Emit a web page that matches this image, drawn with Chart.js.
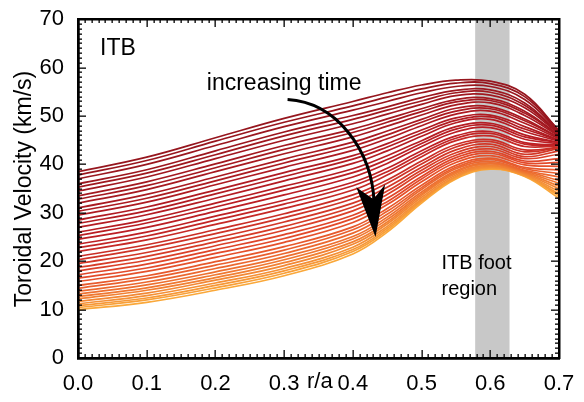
<!DOCTYPE html>
<html>
<head>
<meta charset="utf-8">
<script src="https://cdn.jsdelivr.net/npm/chart.js@4/dist/chart.umd.min.js"></script>
</head>
<body style="margin:0">
<canvas id="graficoPerfis" width="584" height="402"></canvas>
<script>
// Dados (r/a e velocidade toroidal em km/s)
const rOverA = [0, 0.1, 0.2, 0.3, 0.4, 0.45, 0.5, 0.55, 0.6, 0.65, 0.7];
const xTicks = [0, 0.1, 0.2, 0.3, 0.4, 0.5, 0.6, 0.7];
const yTicks = [0, 10, 20, 30, 40, 50, 60, 70];
const footRegion = [0.578, 0.628];

// um perfil por instante, do primeiro (topo) ao último (base)
const profiles = [
    [38.5, 41.5, 45.5, 49.5, 53.0, 54.8, 56.4, 57.4, 57.2, 54.5, 47.0],
    [37.8, 40.8, 44.8, 48.7, 52.1, 53.9, 55.6, 56.8, 56.7, 54.0, 47.0],
    [37.0, 40.0, 43.9, 47.8, 51.2, 53.0, 54.8, 56.1, 56.1, 53.4, 46.8],
    [36.0, 38.9, 42.8, 46.7, 50.1, 51.9, 53.8, 55.3, 55.4, 52.7, 46.5],
    [35.3, 38.2, 42.0, 45.9, 49.3, 51.2, 53.1, 54.8, 54.9, 52.2, 46.5],
    [34.5, 37.4, 41.2, 45.0, 48.4, 50.4, 52.4, 54.2, 54.3, 51.7, 46.3],
    [33.5, 36.4, 40.1, 43.9, 47.3, 49.4, 51.5, 53.4, 53.6, 51.0, 46.0],
    [32.8, 35.6, 39.3, 43.1, 46.6, 48.7, 50.9, 52.9, 53.2, 50.6, 46.0],
    [32.0, 34.8, 38.5, 42.2, 45.7, 47.9, 50.2, 52.3, 52.7, 50.1, 45.8],
    [31.0, 33.8, 37.4, 41.1, 44.6, 46.9, 49.3, 51.6, 51.9, 49.4, 45.5],
    [30.3, 33.0, 36.6, 40.3, 43.8, 46.1, 48.7, 51.0, 51.5, 49.0, 45.5],
    [29.5, 32.2, 35.8, 39.4, 42.9, 45.3, 48.0, 50.4, 51.0, 48.5, 45.3],
    [28.5, 31.2, 34.7, 38.3, 41.8, 44.3, 47.1, 49.6, 50.2, 47.8, 45.0],
    [27.8, 30.4, 33.9, 37.5, 41.1, 43.6, 46.5, 49.1, 49.8, 47.3, 45.0],
    [27.0, 29.6, 33.0, 36.6, 40.2, 42.8, 45.8, 48.6, 49.3, 46.8, 44.8],
    [26.0, 28.6, 32.0, 35.5, 39.1, 41.8, 44.9, 47.8, 48.5, 46.1, 44.5],
    [25.3, 27.9, 31.2, 34.7, 38.3, 41.0, 44.3, 47.3, 48.1, 45.7, 44.5],
    [24.5, 27.0, 30.3, 33.7, 37.4, 40.2, 43.7, 46.7, 47.6, 45.2, 44.3],
    [23.5, 26.0, 29.3, 32.6, 36.3, 39.2, 42.8, 45.9, 46.8, 44.5, 44.0],
    [22.8, 25.2, 28.5, 31.8, 35.6, 38.5, 42.2, 45.4, 46.4, 44.2, 44.0],
    [22.0, 24.4, 27.6, 30.9, 34.7, 37.8, 41.6, 44.9, 45.9, 43.7, 43.8],
    [21.0, 23.4, 26.5, 29.8, 33.7, 36.8, 40.7, 44.1, 45.1, 43.0, 43.5],
    [20.3, 22.7, 25.7, 29.0, 32.9, 36.1, 40.1, 43.6, 44.7, 42.6, 43.5],
    [19.5, 21.8, 24.8, 28.1, 32.0, 35.3, 39.4, 43.0, 44.2, 42.1, 43.3],
    [18.7, 21.0, 24.0, 27.2, 31.2, 34.5, 38.8, 42.4, 43.7, 41.6, 42.8],
    [18.0, 20.2, 23.2, 26.4, 30.4, 33.8, 38.2, 41.9, 43.2, 41.2, 42.1],
    [17.2, 19.4, 22.4, 25.5, 29.5, 33.0, 37.5, 41.4, 42.7, 40.7, 41.2],
    [16.5, 18.6, 21.6, 24.7, 28.8, 32.3, 37.0, 40.9, 42.3, 40.3, 40.4],
    [15.8, 17.9, 20.8, 23.9, 28.0, 31.7, 36.4, 40.4, 41.8, 39.9, 39.6],
    [15.0, 17.0, 19.9, 23.0, 27.1, 30.9, 35.7, 39.8, 41.3, 39.4, 38.8],
    [14.4, 16.4, 19.2, 22.3, 26.5, 30.3, 35.2, 39.4, 41.0, 39.1, 38.1],
    [13.8, 15.7, 18.5, 21.6, 25.8, 29.7, 34.8, 39.1, 40.6, 38.8, 37.4],
    [13.2, 15.1, 17.8, 20.9, 25.1, 29.1, 34.3, 38.7, 40.3, 38.6, 36.7],
    [12.7, 14.5, 17.2, 20.3, 24.6, 28.6, 33.9, 38.4, 40.1, 38.4, 36.1],
    [12.2, 14.0, 16.6, 19.7, 24.0, 28.1, 33.6, 38.1, 39.8, 38.2, 35.5],
    [11.7, 13.4, 16.1, 19.1, 23.5, 27.7, 33.2, 37.8, 39.6, 38.0, 35.0],
    [11.2, 12.9, 15.5, 18.5, 22.9, 27.2, 32.8, 37.5, 39.4, 37.8, 34.4],
    [10.8, 12.4, 15.0, 18.0, 22.4, 26.8, 32.5, 37.4, 39.3, 37.7, 33.9],
    [10.4, 12.0, 14.5, 17.5, 22.0, 26.4, 32.3, 37.2, 39.1, 37.6, 33.5],
    [10.0, 11.5, 14.0, 17.0, 21.5, 26.0, 32.0, 37.0, 39.0, 37.5, 33.0]
];

const FONTE = '"Liberation Sans", Arial, sans-serif';

// vermelho escuro -> vermelho -> laranja
function corDaLinha(t) {
    const stops = [
        [0.0, [150, 22, 30]],
        [0.45, [188, 30, 36]],
        [0.7, [228, 75, 42]],
        [1.0, [250, 168, 58]]
    ];
    for (let k = 1; k < stops.length; k++) {
        if (t <= stops[k][0]) {
            const a = stops[k - 1], b = stops[k];
            const f = (t - a[0]) / (b[0] - a[0]);
            const c = a[1].map((v, j) => Math.round(v + (b[1][j] - v) * f));
            return `rgb(${c[0]},${c[1]},${c[2]})`;
        }
    }
    return 'rgb(250,168,58)';
}

const datasets = profiles.map((perfil, i) => ({
    data: perfil.map((v, j) => ({ x: rOverA[j], y: v })),
    borderColor: corDaLinha(i / (profiles.length - 1)),
    borderWidth: 1.7,
    pointRadius: 0,
    fill: false,
    tension: 0.4
}));

// faixa cinza da região do pé da ITB (atrás das curvas)
const faixaPlugin = {
    id: 'faixa',
    beforeDatasetsDraw(chart) {
        const { ctx, chartArea, scales: { x } } = chart;
        const x0 = x.getPixelForValue(footRegion[0]);
        const x1 = x.getPixelForValue(footRegion[1]);
        ctx.save();
        ctx.fillStyle = 'rgb(200,200,200)';
        ctx.fillRect(x0, chartArea.top, x1 - x0, chartArea.bottom - chartArea.top);
        ctx.restore();
    }
};

// títulos e anotações
const textosPlugin = {
    id: 'textos',
    afterDraw(chart) {
        const { ctx, scales: { x, y } } = chart;
        ctx.save();
        ctx.fillStyle = '#000';
        ctx.font = `22px ${FONTE}`;
        ctx.textAlign = 'center';
        ctx.textBaseline = 'middle';
        ctx.fillText('r/a', x.getPixelForValue(0.352), 382);
        ctx.save();
        ctx.translate(25, 189);
        ctx.rotate(-Math.PI / 2);
        ctx.font = `23px ${FONTE}`;
        ctx.fillText('Toroidal Velocity (km/s)', 0, 0);
        ctx.restore();

        ctx.font = `23px ${FONTE}`;
        ctx.textAlign = 'left';
        ctx.fillText('ITB', x.getPixelForValue(0.032), y.getPixelForValue(64));
        ctx.textAlign = 'center';
        ctx.fillText('increasing time', x.getPixelForValue(0.3), y.getPixelForValue(56.6));
        ctx.font = `20px ${FONTE}`;
        ctx.textAlign = 'left';
        ctx.fillText('ITB foot', x.getPixelForValue(0.529), y.getPixelForValue(19.6));
        ctx.fillText('region', x.getPixelForValue(0.529), y.getPixelForValue(14.1));

        // seta curva
        const P = (vx, vy) => [x.getPixelForValue(vx), y.getPixelForValue(vy)];
        const s = P(0.305, 53.4), c1 = P(0.376, 52.8), c2 = P(0.428, 43), e = P(0.431, 32);
        ctx.strokeStyle = '#000';
        ctx.lineWidth = 3;
        ctx.beginPath();
        ctx.moveTo(s[0], s[1]);
        ctx.bezierCurveTo(c1[0], c1[1], c2[0], c2[1], e[0], e[1]);
        ctx.stroke();
        const tip = P(0.433, 25.0), esq = P(0.405, 35.3), dir = P(0.447, 35.9), nch = P(0.430, 32.8);
        ctx.beginPath();
        ctx.moveTo(tip[0], tip[1]);
        ctx.lineTo(esq[0], esq[1]);
        ctx.lineTo(nch[0], nch[1]);
        ctx.lineTo(dir[0], dir[1]);
        ctx.closePath();
        ctx.fill();
        ctx.restore();
    }
};

// moldura e marcas para dentro (menores a cada 0.01 e a cada 1 km/s)
const molduraPlugin = {
    id: 'moldura',
    afterDraw(chart) {
        const { ctx, chartArea, scales: { x, y } } = chart;
        const L = Math.round(chartArea.left), R = Math.round(chartArea.right);
        const T = Math.round(chartArea.top), B = Math.round(chartArea.bottom);
        ctx.save();
        ctx.fillStyle = '#000';
        try {
            for (let k = 0; k <= 70; k++) {
                const px = Math.round(x.getPixelForValue(k / 100));
                const len = k % 10 === 0 ? 8 : 4;
                ctx.fillRect(px - 0.5, B - len, 1.3, len);
                ctx.fillRect(px - 0.5, T, 1.3, len);
            }
            for (let k = 0; k <= 70; k++) {
                const py = Math.round(y.getPixelForValue(k));
                const len = k % 10 === 0 ? 8 : 4;
                ctx.fillRect(L, py - 0.5, len, 1.3);
                ctx.fillRect(R - len, py - 0.5, len, 1.3);
            }
            ctx.fillRect(L - 1, T - 1, R - L + 2, 2.5);
            ctx.fillRect(L - 1, B - 1, R - L + 2, 2.5);
            ctx.fillRect(L - 1, T - 1, 2.5, B - T + 2);
            ctx.fillRect(R - 1, T - 1, 2.5, B - T + 2);
        } catch (err) {
            ctx.font = '12px sans-serif';
            ctx.fillText(String(err), 90, 395);
        }
        ctx.restore();
    }
};

const ctxPerfis = document.getElementById('graficoPerfis').getContext('2d');
new Chart(ctxPerfis, {
    type: 'line',
    data: { datasets },
    options: {
        responsive: false,
        animation: false,
        devicePixelRatio: 1,
        layout: { padding: { top: 16, right: 25, left: 0, bottom: 0 } },
        plugins: { legend: { display: false }, tooltip: { enabled: false } },
        scales: {
            x: {
                type: 'linear', min: 0, max: 0.7,
                afterBuildTicks: s => { s.ticks = xTicks.map(v => ({ value: v })); },
                afterFit: s => { s.height = 44; },
                grid: { display: false },
                border: { display: true, color: '#000', width: 2.5 },
                ticks: { callback: v => v.toFixed(1), color: '#000', padding: 5, maxRotation: 0,
                         font: { family: FONTE, size: 22 } }
            },
            y: {
                type: 'linear', min: 0, max: 70,
                afterBuildTicks: s => { s.ticks = yTicks.map(v => ({ value: v })); },
                afterFit: s => { s.width = 78; },
                grid: { display: false },
                border: { display: true, color: '#000', width: 2.5 },
                ticks: { color: '#000', padding: 6, font: { family: FONTE, size: 22 } }
            }
        }
    },
    plugins: [faixaPlugin, textosPlugin, molduraPlugin]
});
</script>
</body>
</html>
